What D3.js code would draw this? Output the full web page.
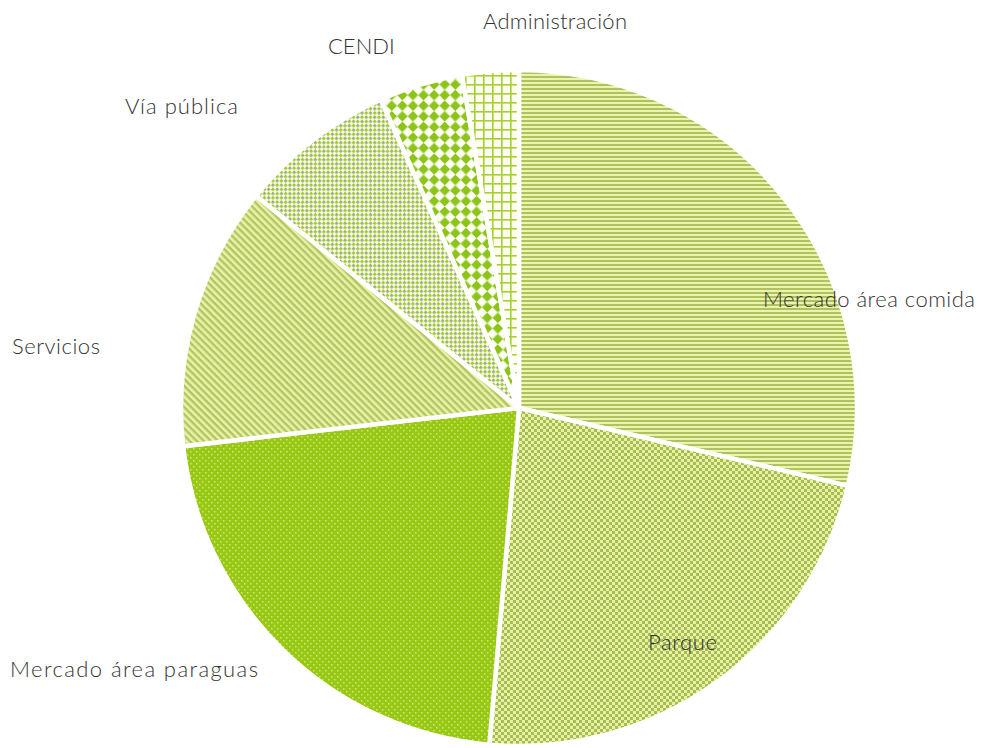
<!DOCTYPE html>
<html>
<head>
<meta charset="utf-8">
<script src="https://cdn.jsdelivr.net/npm/d3@7"></script>
<style>
  body { margin: 0; background: #fff; }
  svg text { font-family: "Lato", "Open Sans", sans-serif; font-weight: 300; fill: #333; }
</style>
</head>
<body>
<svg id="chart" width="997" height="748"></svg>
<script>
// Data (percentages)
const categories = ["Mercado área comida", "Parque", "Mercado área paraguas", "Servicios", "Vía pública", "CENDI", "Administración"];
const values = [28.7, 22.7, 21.8, 12.6, 7.5, 4.0, 2.7];

// Layout (not data)
const cx = 519, cy = 408, radius = 338;
const labelLayout = [
  {x: 763, y: 298, w: 212},
  {x: 648, y: 641, w: 69},
  {x: 10,  y: 668, w: 248},
  {x: 12,  y: 345, w: 88},
  {x: 125, y: 105, w: 113},
  {x: 328, y: 45,  w: null},
  {x: 483, y: 20,  w: 144}
];

const svg = d3.select("#chart");
const defs = svg.append("defs");

// Pattern 0: horizontal stripes
let p = defs.append("pattern").attr("id", "pat0").attr("patternUnits", "userSpaceOnUse").attr("width", 4).attr("height", 4);
p.append("rect").attr("width", 4).attr("height", 4).attr("fill", "#eaf4aa");
p.append("rect").attr("width", 4).attr("height", 2).attr("fill", "#afc160");

// Pattern 1: checkerboard
p = defs.append("pattern").attr("id", "pat1").attr("patternUnits", "userSpaceOnUse").attr("width", 6).attr("height", 6);
p.append("rect").attr("width", 6).attr("height", 6).attr("fill", "#e6f4a2");
p.append("rect").attr("width", 3).attr("height", 3).attr("fill", "#a8bb58");
p.append("rect").attr("x", 3).attr("y", 3).attr("width", 3).attr("height", 3).attr("fill", "#a8bb58");

// Pattern 2: bright green with light dots
p = defs.append("pattern").attr("id", "pat2").attr("patternUnits", "userSpaceOnUse").attr("width", 6).attr("height", 6);
p.append("rect").attr("width", 6).attr("height", 6).attr("fill", "#98c814");
p.append("rect").attr("x", 1).attr("y", 1).attr("width", 1.5).attr("height", 1.5).attr("fill", "#cfe87a");
p.append("rect").attr("x", 4).attr("y", 4).attr("width", 1.5).attr("height", 1.5).attr("fill", "#cfe87a");

// Pattern 3: diagonal stripes "\"
p = defs.append("pattern").attr("id", "pat3").attr("patternUnits", "userSpaceOnUse").attr("width", 5).attr("height", 5)
  .attr("patternTransform", "rotate(45)");
p.append("rect").attr("width", 5).attr("height", 5).attr("fill", "#e8f3a6");
p.append("rect").attr("width", 5).attr("height", 2.4).attr("fill", "#b3c464");

// Pattern 4: small dots on white
p = defs.append("pattern").attr("id", "pat4").attr("patternUnits", "userSpaceOnUse").attr("width", 6).attr("height", 6)
  .attr("patternTransform", "rotate(45)");
p.append("rect").attr("width", 6).attr("height", 6).attr("fill", "#f6fbe2");
p.append("rect").attr("x", 0).attr("y", 0).attr("width", 2.8).attr("height", 2.8).attr("fill", "#9ccc22");
p.append("rect").attr("x", 3).attr("y", 3).attr("width", 2.8).attr("height", 2.8).attr("fill", "#a0ab80");

// Pattern 5: diamonds (rotated checkerboard)
p = defs.append("pattern").attr("id", "pat5").attr("patternUnits", "userSpaceOnUse").attr("width", 15).attr("height", 15)
  .attr("patternTransform", "rotate(45)");
p.append("rect").attr("width", 15).attr("height", 15).attr("fill", "#fbfdf2");
p.append("rect").attr("width", 7.5).attr("height", 7.5).attr("fill", "#8dc41a");
p.append("rect").attr("x", 7.5).attr("y", 7.5).attr("width", 7.5).attr("height", 7.5).attr("fill", "#8dc41a");

// Pattern 6: grid
p = defs.append("pattern").attr("id", "pat6").attr("patternUnits", "userSpaceOnUse").attr("width", 9).attr("height", 9);
p.append("rect").attr("width", 9).attr("height", 9).attr("fill", "#fbfdf0");
p.append("rect").attr("x", 0).attr("y", 0).attr("width", 9).attr("height", 1.6).attr("fill", "#a6d030");
p.append("rect").attr("x", 0).attr("y", 0).attr("width", 1.6).attr("height", 9).attr("fill", "#a6d030");

const data = categories.map((c, i) => ({category: c, value: values[i], idx: i}));

const pie = d3.pie().value(d => d.value).sort(null);
const arc = d3.arc().innerRadius(0).outerRadius(radius);

const g = svg.append("g").attr("transform", `translate(${cx},${cy})`);
g.selectAll("path").data(pie(data)).join("path")
  .attr("d", arc)
  .attr("fill", d => `url(#pat${d.data.idx})`)
  .attr("stroke", "#fff")
  .attr("stroke-width", 4.5)
  .attr("stroke-linejoin", "round");

const labels = svg.selectAll("text.lbl").data(data).join("text")
  .attr("class", "lbl")
  .attr("x", d => labelLayout[d.idx].x)
  .attr("y", d => labelLayout[d.idx].y)
  .attr("dominant-baseline", "central")
  .attr("font-size", 22)
  .text(d => d.category);
labels.filter(d => labelLayout[d.idx].w)
  .attr("textLength", d => labelLayout[d.idx].w)
  .attr("lengthAdjust", "spacing");
</script>
</body>
</html>
